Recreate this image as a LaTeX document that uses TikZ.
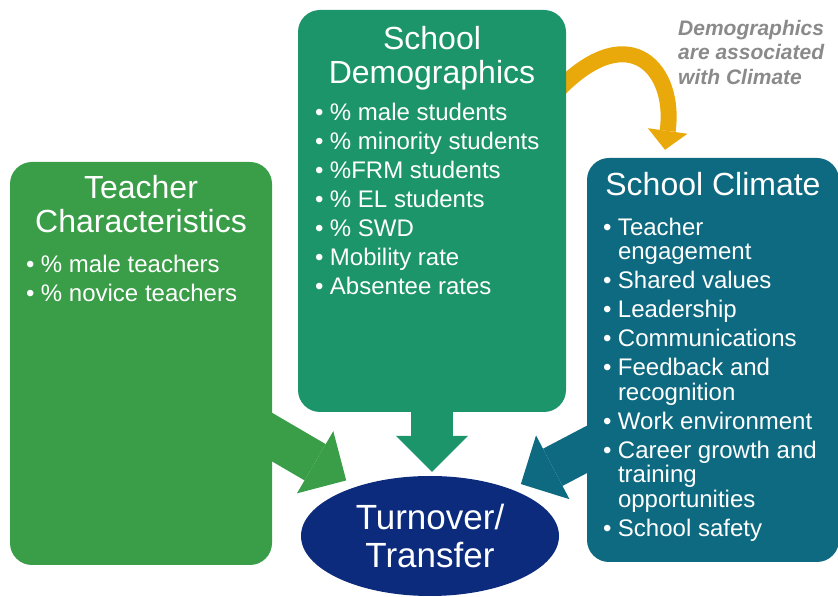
\documentclass[tikz,border=0pt]{standalone}
\usepackage{fontspec}
\setmainfont{Liberation Sans}
\usetikzlibrary{positioning}
\usetikzlibrary{calc}
\usetikzlibrary{arrows.meta}
\usetikzlibrary{backgrounds}
\usetikzlibrary{shapes.geometric}

\definecolor{tchgreen}{HTML}{3A9D48}
\definecolor{demgreen}{HTML}{1D956B}
\definecolor{climteal}{HTML}{0E6A80}
\definecolor{turnnavy}{HTML}{0C2B7C}
\definecolor{linkgold}{HTML}{EAA90B}
\definecolor{notegray}{HTML}{8A8A8A}

\hyphenpenalty=10000
\exhyphenpenalty=10000
\newcommand{\bul}[1]{\hangindent=15pt\hangafter=1\noindent\makebox[15pt][l]{\textbullet}#1\par\vspace{4.5pt}}

\begin{document}
\begin{tikzpicture}[x=1pt,y=1pt,
  box/.style={rounded corners=22pt,inner sep=0pt},
  head/.style={text=white,align=center,inner sep=0pt,font=\fontsize{32}{34}\selectfont},
  items/.style={text=white,align=flush left,inner sep=0pt,font=\fontsize{24}{24.5}\selectfont},
  note/.style={text=notegray,align=left,inner sep=0pt,font=\fontsize{21}{24.5}\selectfont\bfseries\itshape},
  fat/.style={line width=42pt,-{Triangle[width=72pt,length=36pt,line width=0pt]}}]
  \useasboundingbox (0,0) rectangle (838,597);
  \node[box,fill=tchgreen,minimum width=262pt,minimum height=403pt] (teacher) at (141,233.5) {};
  \node[box,fill=demgreen,minimum width=268pt,minimum height=402pt] (demo) at (432,386) {};
  \node[box,fill=climteal,minimum width=252pt,minimum height=404pt] (climate) at (713,237) {};
  \node[ellipse,fill=turnnavy,minimum width=258pt,minimum height=120pt,inner sep=0pt,text=white,align=center,font=\fontsize{35}{38}\selectfont] (turn) at (430,61) {Turnover/\\Transfer};

  \node[head,below=13pt of teacher.north] (teacherH) {Teacher\\Characteristics};
  \node[head,below=16pt of demo.north] (demoH) {School\\Demographics};
  \node[head,below=14pt of climate.north] (climateH) {School Climate};

  \node[items,text width=236pt,below right=93.5pt and 16pt of teacher.north west] (teacherL)
    {\bul{\% male teachers}\bul{\% novice teachers}};
  \node[items,text width=241pt,below right=93.5pt and 17pt of demo.north west] (demoL)
    {\bul{\% male students}\bul{\% minority students}\bul{\%FRM students}\bul{\% EL students}%
     \bul{\% SWD}\bul{Mobility rate}\bul{Absentee rates}};
  \node[items,text width=230pt,below right=60pt and 16pt of climate.north west] (climateL)
    {\bul{Teacher engagement}\bul{Shared values}\bul{Leadership}\bul{Communications}%
     \bul{Feedback and recognition}\bul{Work environment}\bul{Career growth and training opportunities}%
     \bul{School safety}};

  \node[note,anchor=north west] (assoc) at (678,577) {Demographics\\are associated\\with Climate};

  \begin{scope}[on background layer]
    \draw[fat,tchgreen,shorten >=12pt] ([xshift=-20pt,yshift=-62pt]teacher.east) -- (turn.146);
    \draw[fat,demgreen,shorten >=4pt] ([yshift=20pt]demo.south) -- (demo.south |- turn.north);
    \draw[fat,climteal,shorten >=11pt] ([xshift=18pt,yshift=-80pt]climate.west) -- (turn.30);
    \draw[line width=16pt,linkgold,-{Triangle[width=40pt,length=19pt,line width=0pt]}]
      ([xshift=-6pt,yshift=123pt]demo.east) .. controls +(45:100) and +(82:80) .. ([xshift=-48pt,yshift=8pt]climate.north);
  \end{scope}
\end{tikzpicture}
\end{document}
